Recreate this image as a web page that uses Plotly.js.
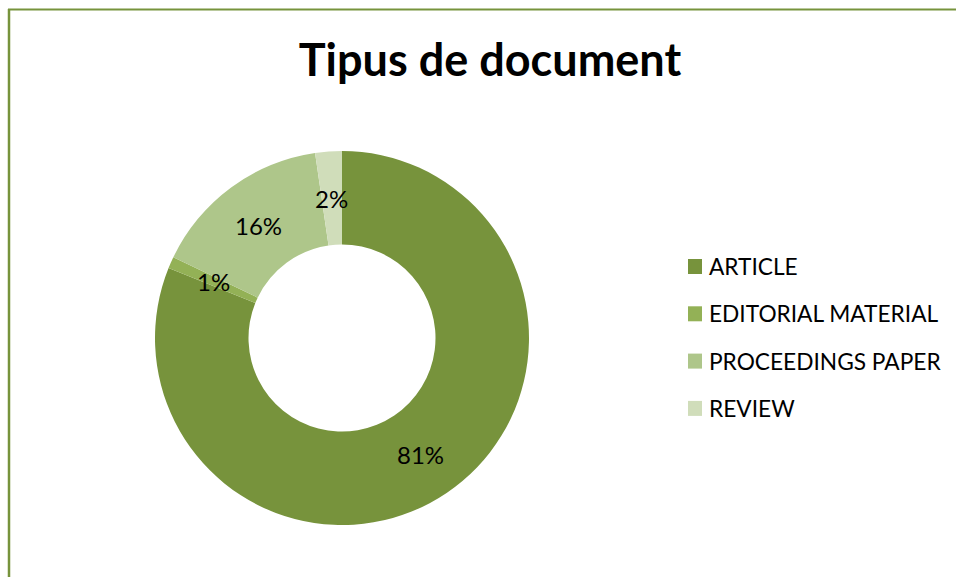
<!DOCTYPE html>
<html>
<head>
<meta charset="utf-8">
<script src="https://cdn.plot.ly/plotly-3.0.1.min.js"></script>
<style>html,body{margin:0;padding:0;background:#fff;}#chart{width:956px;height:577px;}</style>
</head>
<body>
<div id="chart"></div>
<script>
var categories = ["ARTICLE", "EDITORIAL MATERIAL", "PROCEEDINGS PAPER", "REVIEW"];
var shares = [81.1, 1.0, 15.6, 2.3];
var colors = ["#77933C", "#93B156", "#AEC68A", "#D0DDBA"];
var chartTitle = "Tipus de document";

var W = 956, H = 577;
var FONT = "Lato, 'Open Sans', sans-serif";

// pie geometry (pixels)
var CX = 342, CY = 338, RO = 187, HOLE = 0.5;

var trace = {
  type: "pie",
  labels: categories,
  values: shares,
  sort: false,
  direction: "clockwise",
  rotation: 0,
  hole: HOLE,
  marker: {colors: colors, line: {width: 0}},
  textinfo: "none",
  hoverinfo: "label+percent",
  showlegend: false,
  domain: {x: [(CX - RO) / W, (CX + RO) / W], y: [1 - (CY + RO) / H, 1 - (CY - RO) / H]}
};

var annotations = [];
var shapes = [];

// data labels: placed at the middle of each slice's ring, from the shares
var total = shares.reduce(function (a, b) { return a + b; }, 0);
var cum = 0;
var rMid = RO * (1 + HOLE) / 2;
shares.forEach(function (v, i) {
  var ang = 2 * Math.PI * (cum + v / 2) / total;
  cum += v;
  var px = CX + rMid * Math.sin(ang);
  var py = CY - rMid * Math.cos(ang);
  annotations.push({
    xref: "paper", yref: "paper", x: px / W, y: 1 - py / H,
    xanchor: "center", yanchor: "middle", showarrow: false,
    text: Math.round(v / total * 100) + "%",
    font: {family: FONT, size: 24, color: "#000"}
  });
});

// legend drawn as annotations + squares, placed by index
var legY0 = 266.5, legStep = 47.3;
categories.forEach(function (c, i) {
  var yc = legY0 + i * legStep;
  annotations.push({
    xref: "paper", yref: "paper", x: 707 / W, y: 1 - yc / H,
    xanchor: "left", yanchor: "middle", showarrow: false,
    text: c, font: {family: FONT, size: 22.7, color: "#000"}
  });
  shapes.push({
    type: "rect", xref: "paper", yref: "paper",
    x0: 688 / W, x1: 702 / W, y0: 1 - (yc - 7.5) / H, y1: 1 - (yc + 7.5) / H,
    fillcolor: colors[i], line: {width: 0}
  });
});
// chart frame (left and top edges)
shapes.push({type: "line", xref: "paper", yref: "paper", x0: 9 / W, x1: 9 / W, y0: 1 - 9 / H, y1: 0, line: {color: "#77933C", width: 2.5}});
shapes.push({type: "line", xref: "paper", yref: "paper", x0: 8 / W, x1: 1, y0: 1 - 9.5 / H, y1: 1 - 9.5 / H, line: {color: "#77933C", width: 2}});

var layout = {
  width: W, height: H,
  margin: {l: 0, r: 0, t: 0, b: 0},
  paper_bgcolor: "#fff",
  title: {text: "<b>" + chartTitle + "</b>", x: 490 / W, xanchor: "center", y: 1 - 60 / H, yanchor: "middle",
          font: {family: FONT, size: 45, color: "#000"}},
  annotations: annotations,
  shapes: shapes,
  showlegend: false
};

Plotly.newPlot("chart", [trace], layout, {displayModeBar: false});
</script>
</body>
</html>
